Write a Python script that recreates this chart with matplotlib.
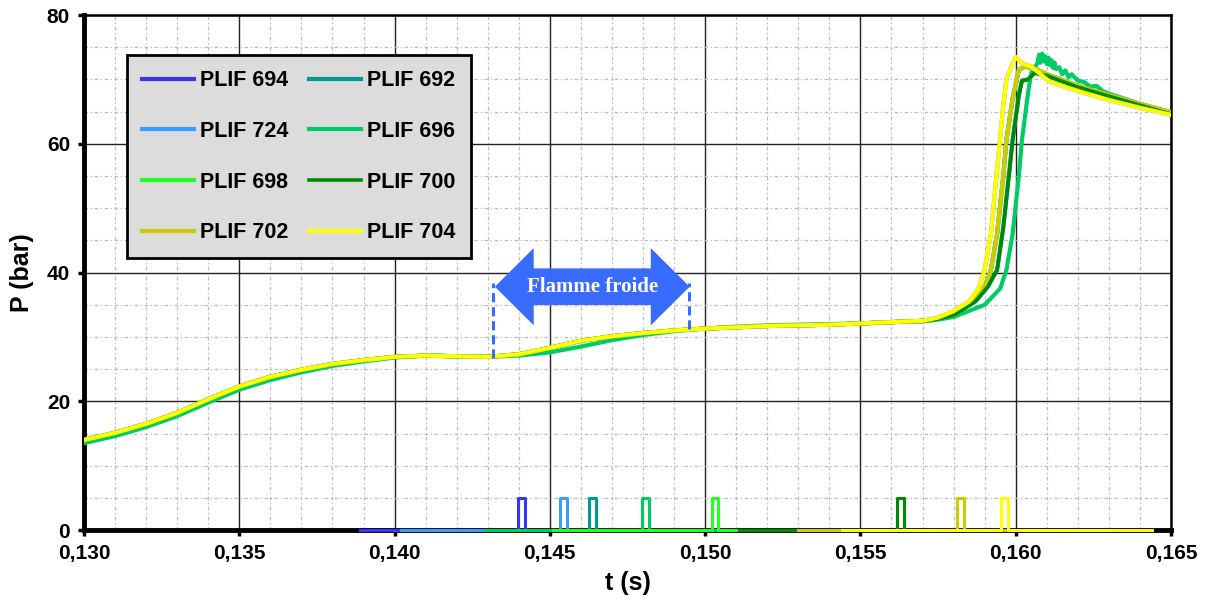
import numpy as np
import matplotlib
matplotlib.use("Agg")
import matplotlib.pyplot as plt
import matplotlib.ticker as mticker
from matplotlib.patches import Polygon

plt.rcParams['font.family'] = ['Liberation Sans', 'DejaVu Sans']
plt.rcParams['font.weight'] = 'bold'

# ── Data ─────────────────────────────────────────────────────────────────────
NAMES = ["PLIF 694", "PLIF 692", "PLIF 724", "PLIF 696",
         "PLIF 698", "PLIF 700", "PLIF 702", "PLIF 704"]
COLORS = {"PLIF 694": "#3535f5", "PLIF 692": "#009a96", "PLIF 724": "#3d9bff",
          "PLIF 696": "#00cc66", "PLIF 698": "#22ff22", "PLIF 700": "#008a00",
          "PLIF 702": "#cccc00", "PLIF 704": "#ffff00"}

# common pressure trace before autoignition (t in s, P in bar)
BASE_T = [0.130, 0.131, 0.132, 0.133, 0.134, 0.135, 0.136, 0.137, 0.138, 0.139,
          0.140, 0.141, 0.142, 0.143, 0.144, 0.145, 0.146, 0.147, 0.148, 0.149,
          0.150, 0.151, 0.152, 0.153, 0.154, 0.155, 0.156, 0.157]
BASE_P = [14.0, 15.1, 16.5, 18.2, 20.3, 22.3, 23.8, 24.9, 25.8, 26.4,
          26.9, 27.1, 27.0, 26.9, 27.3, 28.3, 29.4, 30.1, 30.6, 31.0,
          31.3, 31.5, 31.7, 31.8, 31.9, 32.1, 32.3, 32.5]
# PLIF 696 runs a little lower before ignition
BASE_P_696 = [13.5, 14.6, 16.0, 17.7, 19.8, 21.8, 23.3, 24.5, 25.5, 26.2,
              26.8, 27.1, 27.0, 26.9, 27.1, 27.6, 28.5, 29.5, 30.3, 30.9,
              31.3, 31.6, 31.8, 31.9, 32.0, 32.1, 32.3, 32.4]

# ignition + decay part per run
RISE_T = {
    "PLIF 704": [0.1575, 0.1580, 0.1585, 0.1588, 0.1590, 0.1592, 0.1594, 0.1595, 0.1596, 0.1597,
                 0.1599, 0.1600, 0.1602, 0.1605, 0.1611, 0.1620, 0.1630, 0.1640, 0.1650],
    "PLIF 702": [0.1575, 0.1580, 0.1586, 0.1590, 0.1592, 0.1594, 0.1596, 0.1597, 0.1599, 0.1601,
                 0.1603, 0.1607, 0.1610, 0.1620, 0.1630, 0.1640, 0.1650],
    "PLIF 700": [0.1575, 0.1580, 0.1587, 0.1591, 0.1594, 0.1596, 0.1598, 0.1599, 0.1601, 0.1602,
                 0.1604, 0.1606, 0.1610, 0.1620, 0.1630, 0.1640, 0.1650],
    "PLIF 696": [0.1575, 0.1580, 0.1590, 0.1595, 0.1597, 0.1599, 0.1601, 0.1602, 0.1604, 0.1605,
                 0.1607, 0.16075, 0.1608, 0.16085, 0.1609, 0.16095, 0.1610, 0.16105, 0.1611,
                 0.16115, 0.1612, 0.16125, 0.1613, 0.1614, 0.1615, 0.1616, 0.1617, 0.1618,
                 0.1620, 0.1622, 0.1624, 0.1626, 0.1628, 0.1630, 0.1640, 0.1650],
}
RISE_P = {
    "PLIF 704": [33.0, 34.0, 35.5, 37.5, 40.5, 46.0, 56.0, 61.0, 66.0, 70.0,
                 72.5, 73.5, 72.5, 72.0, 69.6, 68.2, 66.8, 65.6, 64.5],
    "PLIF 702": [32.9, 33.7, 35.5, 37.8, 40.4, 46.0, 55.0, 60.6, 67.0, 71.5,
                 72.0, 71.5, 70.8, 69.0, 67.6, 66.2, 64.9],
    "PLIF 700": [32.8, 33.4, 35.5, 37.8, 40.4, 47.0, 56.0, 60.6, 67.5, 69.8,
                 70.0, 71.0, 70.6, 68.8, 67.4, 66.0, 64.6],
    "PLIF 696": [32.7, 33.1, 35.0, 37.5, 40.4, 46.0, 55.0, 60.6, 68.0, 71.0,
                 72.5, 73.8, 72.6, 74.0, 72.8, 73.6, 72.4, 73.4, 72.2,
                 73.0, 71.8, 72.6, 71.6, 71.9, 70.8, 71.4, 70.3, 70.8,
                 69.8, 69.6, 68.9, 69.0, 68.2, 67.8, 66.2, 64.6],
}
# runs hidden under the others follow a similar trace
RISE_T["PLIF 694"] = RISE_T["PLIF 702"]
RISE_P["PLIF 694"] = RISE_P["PLIF 702"]
RISE_T["PLIF 692"] = RISE_T["PLIF 700"]
RISE_P["PLIF 692"] = RISE_P["PLIF 700"]
RISE_T["PLIF 724"] = RISE_T["PLIF 704"]
RISE_P["PLIF 724"] = RISE_P["PLIF 704"]
RISE_T["PLIF 698"] = RISE_T["PLIF 702"]
RISE_P["PLIF 698"] = RISE_P["PLIF 702"]

# camera trigger signals: window start/end and pulse (0 → 5 bar level)
TRIG_ON = {"PLIF 694": 0.1389, "PLIF 692": 0.1412, "PLIF 724": 0.1402, "PLIF 696": 0.1429,
           "PLIF 698": 0.1451, "PLIF 700": 0.1511, "PLIF 702": 0.1530, "PLIF 704": 0.1544}
TRIG_OFF = {"PLIF 694": 0.1489, "PLIF 692": 0.1512, "PLIF 724": 0.1502, "PLIF 696": 0.1529,
            "PLIF 698": 0.1551, "PLIF 700": 0.1611, "PLIF 702": 0.1630, "PLIF 704": 0.1644}
PULSE_UP = {"PLIF 694": 0.14397, "PLIF 692": 0.14626, "PLIF 724": 0.14533, "PLIF 696": 0.14797,
            "PLIF 698": 0.15022, "PLIF 700": 0.15618, "PLIF 702": 0.15811, "PLIF 704": 0.15953}
PULSE_DOWN = {"PLIF 694": 0.14420, "PLIF 692": 0.14649, "PLIF 724": 0.14555, "PLIF 696": 0.14819,
              "PLIF 698": 0.15041, "PLIF 700": 0.15640, "PLIF 702": 0.15833, "PLIF 704": 0.15975}
PULSE_LEVEL = 5

# "Flamme froide" arrow (data coords)
ARROW_T = (0.14323, 0.14950)
ARROW_HEAD = 0.00125
ARROW_P = 37.8
ARROW_BODY = 2.85
ARROW_HALF = 6.0
COLD_MARK_T = (0.14316, 0.14948)
COLD_MARK_P = ((26.7, 38.4), (31.2, 38.4))
ARROW_COLOR = "#3a6bff"

# ── Figure ───────────────────────────────────────────────────────────────────
fig = plt.figure(figsize=(12.05, 6.01), dpi=100)
ax = fig.add_axes([0.0697, 0.118, 0.9021, 0.857])

ax.set_xlim(0.130, 0.165)
ax.set_ylim(0, 80)
ax.xaxis.set_major_locator(mticker.MultipleLocator(0.005))
ax.xaxis.set_minor_locator(mticker.MultipleLocator(0.001))
ax.yaxis.set_major_locator(mticker.MultipleLocator(20))
ax.yaxis.set_minor_locator(mticker.MultipleLocator(5))
ax.xaxis.set_major_formatter(mticker.FuncFormatter(lambda v, p: f"{v:.3f}".replace(".", ",")))
ax.grid(True, which='major', color='#222222', lw=1.0)
ax.grid(True, which='minor', color='#bdbdbd', lw=0.9, ls=(0, (3, 2, 1, 2)))
ax.set_axisbelow(True)
ax.tick_params(which='minor', length=0)
ax.tick_params(which='major', direction='out', length=4, width=2.5, labelsize=15, pad=6)
for lab in ax.get_xticklabels() + ax.get_yticklabels():
    lab.set_fontweight('bold')

for side in ['left', 'bottom']:
    ax.spines[side].set_linewidth(3.5)
for side in ['top', 'right']:
    ax.spines[side].set_linewidth(1.8)

ax.set_xlabel("t (s)", fontsize=18, fontweight='bold', labelpad=6)
ax.set_ylabel("P (bar)", fontsize=18, fontweight='bold', labelpad=9)

# pressure traces
handles = {}
pressure_order = ["PLIF 694", "PLIF 692", "PLIF 724", "PLIF 698",
                  "PLIF 696", "PLIF 702", "PLIF 700", "PLIF 704"]
for name in pressure_order:
    base_p = BASE_P_696 if name == "PLIF 696" else BASE_P
    t = BASE_T + RISE_T[name]
    p = base_p + RISE_P[name]
    lw = 2.6 if name == "PLIF 700" else 3.0
    handles[name], = ax.plot(t, p, color=COLORS[name], lw=lw, label=name, zorder=3)

# trigger signals
for name in NAMES:
    tt = [TRIG_ON[name], PULSE_UP[name], PULSE_UP[name], PULSE_DOWN[name],
          PULSE_DOWN[name], TRIG_OFF[name]]
    pp = [0, 0, PULSE_LEVEL, PULSE_LEVEL, 0, 0]
    ax.plot(tt, pp, color=COLORS[name], lw=2.2, clip_on=False, zorder=4)

# cold flame annotation
x0, x1 = ARROW_T
arrow_pts = [
    (x0, ARROW_P),
    (x0 + ARROW_HEAD, ARROW_P + ARROW_HALF),
    (x0 + ARROW_HEAD, ARROW_P + ARROW_BODY),
    (x1 - ARROW_HEAD, ARROW_P + ARROW_BODY),
    (x1 - ARROW_HEAD, ARROW_P + ARROW_HALF),
    (x1, ARROW_P),
    (x1 - ARROW_HEAD, ARROW_P - ARROW_HALF),
    (x1 - ARROW_HEAD, ARROW_P - ARROW_BODY),
    (x0 + ARROW_HEAD, ARROW_P - ARROW_BODY),
    (x0 + ARROW_HEAD, ARROW_P - ARROW_HALF),
]
ax.add_patch(Polygon(arrow_pts, closed=True, facecolor=ARROW_COLOR,
                     edgecolor='none', zorder=5))
ax.text((x0 + x1) / 2, ARROW_P, "Flamme froide", color='white', fontsize=15,
        fontweight='bold', family=['Liberation Serif', 'DejaVu Serif'],
        ha='center', va='center', zorder=6)
for tm, (p_lo, p_hi) in zip(COLD_MARK_T, COLD_MARK_P):
    ax.plot([tm, tm], [p_lo, p_hi], color=ARROW_COLOR, lw=2.2,
            ls=(0, (3, 1.6)), zorder=5)

# legend (Excel fills rows first)
leg_order = ["PLIF 694", "PLIF 724", "PLIF 698", "PLIF 702",
             "PLIF 692", "PLIF 696", "PLIF 700", "PLIF 704"]
leg = ax.legend([handles[n] for n in leg_order], leg_order, ncol=2,
                loc='upper left', bbox_to_anchor=(0.0396, 0.922),
                fancybox=False, framealpha=1, facecolor='#dcdcdc',
                edgecolor='black', fontsize=15.5, handlelength=2.4,
                handletextpad=0.3, columnspacing=0.95, labelspacing=1.38,
                borderpad=0.7, borderaxespad=0)
leg.get_frame().set_linewidth(2.0)
for txt in leg.get_texts():
    txt.set_fontweight('bold')
leg.set_zorder(7)

fig.savefig("out.png", dpi=100)
